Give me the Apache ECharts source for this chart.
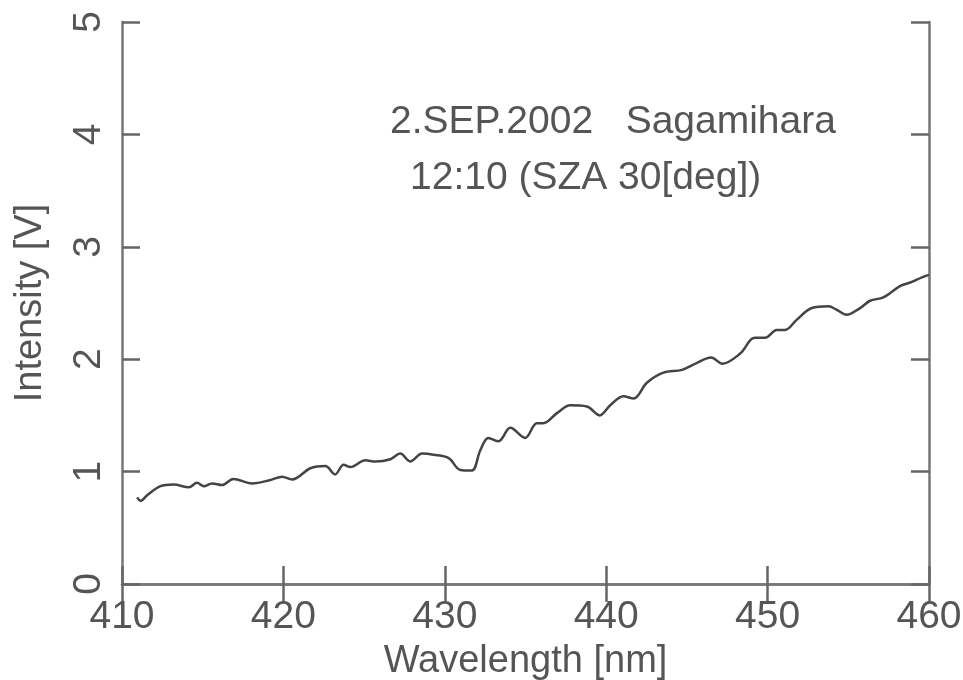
<!DOCTYPE html>
<html>
<head>
<meta charset="utf-8">
<script src="https://cdn.jsdelivr.net/npm/echarts@6/dist/echarts.min.js"></script>
<style>html,body{margin:0;padding:0;background:#fff;}#c{width:963px;height:680px;}</style>
</head>
<body>
<div id="c"></div>
<script>
var wavelength = [410.94,411.15,411.56,412.38,413.2,414.14,414.65,415.07,415.58,416.2,416.9,418.06,419.2,419.92,420.54,421.67,422.6,423.2,423.73,424.15,425.08,425.7,426.63,427.24,427.86,428.6,429.3,430.24,430.96,431.68,432.2,432.7,433.33,434.06,434.98,435.7,436.1,436.95,437.77,438.8,439.6,440.25,441.07,441.7,442.52,443.55,444.7,445.6,446.5,447.2,448.3,449.2,449.84,450.57,451.08,451.8,452.74,453.77,454.28,454.9,455.73,456.35,457.17,458.2,458.8,459.6,460];
var intensity = [0.77,0.74,0.79,0.87,0.885,0.86,0.90,0.87,0.895,0.88,0.935,0.895,0.925,0.955,0.93,1.03,1.05,0.975,1.06,1.04,1.10,1.09,1.11,1.16,1.09,1.16,1.15,1.12,1.015,1.01,1.19,1.30,1.27,1.39,1.30,1.43,1.43,1.52,1.59,1.58,1.50,1.59,1.67,1.65,1.79,1.88,1.905,1.965,2.015,1.96,2.05,2.19,2.19,2.26,2.26,2.35,2.455,2.47,2.44,2.395,2.455,2.52,2.55,2.65,2.68,2.73,2.75];
var xTicks = [410,420,430,440,450,460];
var yTicks = [0,1,2,3,4,5];
var annotation = ['2.SEP.2002   Sagamihara', '12:10 (SZA 30[deg])'];

var data = wavelength.map(function(w,i){return [w, intensity[i]];});
var FONT = '"Liberation Sans", Arial, sans-serif';
var frame = {lineStyle:{color:'#777', width:2.5}};
var tick = {show:true, inside:true, length:18, lineStyle:{color:'#666', width:2.5}};

var chart = echarts.init(document.getElementById('c'), null, {renderer:'canvas'});
chart.setOption({
  backgroundColor:'#fff',
  animation:false,
  grid:{left:122, right:34, top:22, bottom:96, containLabel:false, outerBoundsMode:'none'},
  xAxis:[{
    type:'value', min:xTicks[0], max:xTicks[xTicks.length-1], interval:10,
    name:'Wavelength [nm]', nameLocation:'middle', nameGap:59,
    nameTextStyle:{fontSize:38, color:'#555', fontFamily:FONT},
    axisLine:frame, axisTick:tick, splitLine:{show:false},
    axisLabel:{fontSize:39, color:'#555', fontFamily:FONT, margin:14}
  },{
    type:'value', position:'top', min:xTicks[0], max:xTicks[xTicks.length-1], interval:10,
    axisLine:frame, axisTick:tick, splitLine:{show:false}, axisLabel:{show:false}
  }],
  yAxis:[{
    type:'value', min:yTicks[0], max:yTicks[yTicks.length-1], interval:1,
    name:'Intensity [V]', nameLocation:'middle', nameGap:72, nameRotate:90,
    nameTextStyle:{fontSize:38, color:'#555', fontFamily:FONT},
    axisLine:frame, axisTick:tick, splitLine:{show:false},
    axisLabel:{fontSize:39, color:'#555', fontFamily:FONT, rotate:90, margin:13}
  },{
    type:'value', position:'right', min:yTicks[0], max:yTicks[yTicks.length-1], interval:1,
    axisLine:frame, axisTick:tick, splitLine:{show:false}, axisLabel:{show:false}
  }],
  graphic:[
    {type:'text', x:390, y:122, style:{text:annotation[0], fontSize:39, fontFamily:FONT, fill:'#555', verticalAlign:'middle'}},
    {type:'text', x:410, y:178, style:{text:annotation[1], fontSize:39, fontFamily:FONT, fill:'#555', verticalAlign:'middle'}}
  ],
  series:[{
    type:'line', data:data, xAxisIndex:0, yAxisIndex:0,
    showSymbol:false, smooth:0.35,
    lineStyle:{color:'#444', width:2.5}
  }]
});
</script>
</body>
</html>
